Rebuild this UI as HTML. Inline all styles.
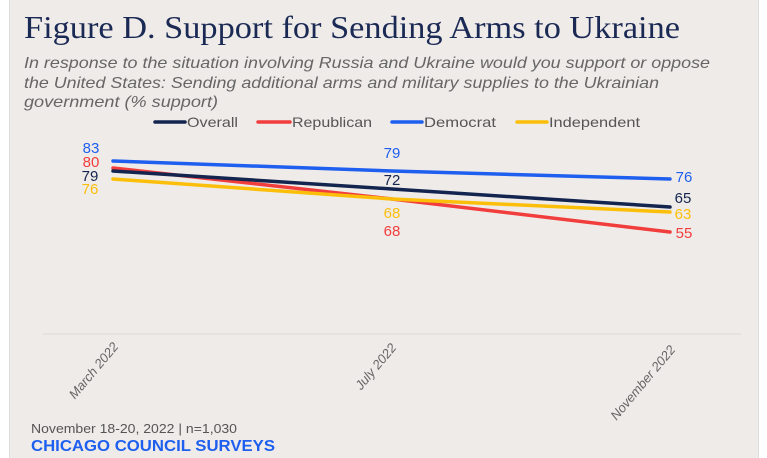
<!DOCTYPE html>
<html><head><meta charset="utf-8"><style>
html,body{margin:0;padding:0;}
body{width:767px;height:458px;background:#fff;position:relative;overflow:hidden;font-family:"Liberation Sans",sans-serif;}
.panel{position:absolute;left:9px;top:0;width:748px;height:458px;background:#efebe8;border-left:1px solid #ddd;border-right:1px solid #ddd;}
</style></head><body>
<div class="panel"></div>
<svg width="767" height="458" style="position:absolute;left:0;top:0" font-family="Liberation Sans, sans-serif">
<text x="24" y="38" font-family="Liberation Serif, serif" font-size="32" fill="#1b2a55" textLength="656" lengthAdjust="spacingAndGlyphs">Figure D. Support for Sending Arms to Ukraine</text>
<g font-size="16" font-style="italic" fill="#666">
<text x="24" y="68" textLength="686" lengthAdjust="spacingAndGlyphs">In response to the situation involving Russia and Ukraine would you support or oppose</text>
<text x="24" y="88" textLength="635" lengthAdjust="spacingAndGlyphs">the United States: Sending additional arms and military supplies to the Ukrainian</text>
<text x="24" y="107" textLength="194" lengthAdjust="spacingAndGlyphs">government (% support)</text>
</g>
<g font-size="14" fill="#555" stroke-width="3.5" stroke-linecap="round">
<line x1="155" y1="122" x2="185" y2="122" stroke="#13254f"/><text x="187" y="127" textLength="51" lengthAdjust="spacingAndGlyphs">Overall</text>
<line x1="258" y1="122" x2="290" y2="122" stroke="#f23d3d"/><text x="292" y="127" textLength="80" lengthAdjust="spacingAndGlyphs">Republican</text>
<line x1="392" y1="122" x2="422" y2="122" stroke="#1e5ff0"/><text x="424" y="127" textLength="72" lengthAdjust="spacingAndGlyphs">Democrat</text>
<line x1="517" y1="122" x2="547" y2="122" stroke="#fbbf0a"/><text x="549" y="127" textLength="91" lengthAdjust="spacingAndGlyphs">Independent</text>
</g>
<line x1="43" y1="334" x2="741" y2="334" stroke="#dcd8d5" stroke-width="1"/>
<g fill="none" stroke-width="3.5" stroke-linecap="round">
<polyline points="113,161 392,171 670,179" stroke="#1e5ff0"/>
<polyline points="113,168 392,199 670,232" stroke="#f23d3d"/>
<polyline points="113,179 392,199 670,212" stroke="#fbbf0a"/>
<polyline points="113,171 392,189 670,207" stroke="#13254f"/>
</g>
<g font-size="15" text-anchor="middle">
<text x="91" y="153" fill="#1e5ff0">83</text>
<text x="91" y="167" fill="#f23d3d">80</text>
<text x="90" y="181" fill="#13254f">79</text>
<text x="90" y="194" fill="#fbbf0a">76</text>
<text x="392" y="158" fill="#1e5ff0">79</text>
<text x="392" y="185" fill="#13254f">72</text>
<text x="392" y="218" fill="#fbbf0a">68</text>
<text x="392" y="236" fill="#f23d3d">68</text>
<text x="684" y="182" fill="#1e5ff0">76</text>
<text x="683" y="203" fill="#13254f">65</text>
<text x="683" y="219" fill="#fbbf0a">63</text>
<text x="684" y="238" fill="#f23d3d">55</text>
</g>
<g font-size="13" font-style="italic" fill="#666" text-anchor="end">
<text transform="translate(119,347) rotate(-50)">March 2022</text>
<text transform="translate(397,348) rotate(-50)">July 2022</text>
<text transform="translate(676,350) rotate(-50)">November 2022</text>
</g>
<text x="31" y="433" font-size="13" fill="#555" textLength="206" lengthAdjust="spacingAndGlyphs">November 18-20, 2022 | n=1,030</text>
<text x="31" y="451" font-size="16" fill="#1e5ff0" font-weight="bold" textLength="244" lengthAdjust="spacingAndGlyphs">CHICAGO COUNCIL SURVEYS</text>
</svg>
</body></html>
